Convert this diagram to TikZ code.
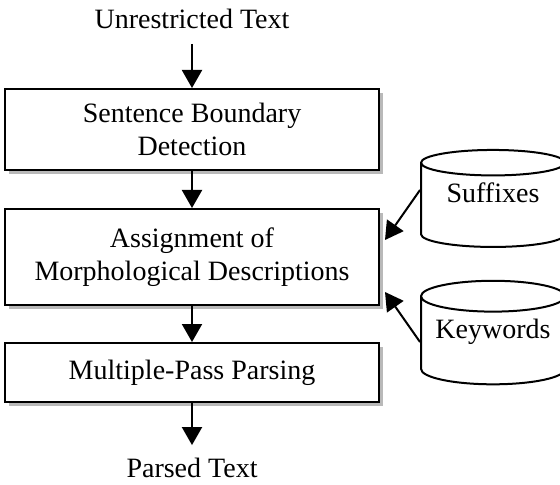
\documentclass[tikz,border=0pt]{standalone}
\usepackage{fontspec}
\setmainfont{Liberation Serif}
\usetikzlibrary{shapes.geometric,shadows,arrows.meta}

\tikzset{
  stage/.style={draw, line width=1pt, fill=white, minimum width=187pt, align=center,
    drop shadow={shadow xshift=2pt, shadow yshift=-2pt, fill=gray!55, opacity=1}},
  store/.style={cylinder, shape border rotate=90, draw, line width=1pt, fill=white,
    minimum width=72pt, minimum height=48.5pt, aspect=0.24, text depth=15pt},
  flow/.style={line width=1pt, -{Triangle[width=10pt,length=9pt]}}
}

\begin{document}
\begin{tikzpicture}[x=0.5pt,y=-0.5pt,font=\fontsize{14}{16.5}\selectfont]
\useasboundingbox (0,0) rectangle (560,485);

% pipeline
\node (input) at (192,19) {Unrestricted Text};
\node[stage, minimum height=40.5pt] (sbd) at (192,129.5) {Sentence Boundary\\Detection};
\node[stage, minimum height=48pt] (amd) at (192,257) {Assignment of\\Morphological Descriptions};
\node[stage, minimum height=29.5pt] (mpp) at (192,372.5) {Multiple-Pass Parsing};
\node (output) at (192,468) {Parsed Text};

% lexicons
\node[store] (suffix) at (493,208) {Suffixes};
\node[store] (keyword) at (493,344) {Keywords};

\draw[flow, shorten <=4pt] (input) -- (sbd);
\draw[flow] (sbd) -- (amd);
\draw[flow] (amd) -- (mpp);
\draw[flow, shorten >=3pt] (mpp) -- (output);
\draw[flow] ([yshift=9pt]suffix.west) -- ([shift={(2.5pt,8.5pt)}]amd.east);
\draw[flow] ([yshift=1pt]keyword.west) -- ([shift={(2.5pt,-17.5pt)}]amd.east);
\end{tikzpicture}
\end{document}
